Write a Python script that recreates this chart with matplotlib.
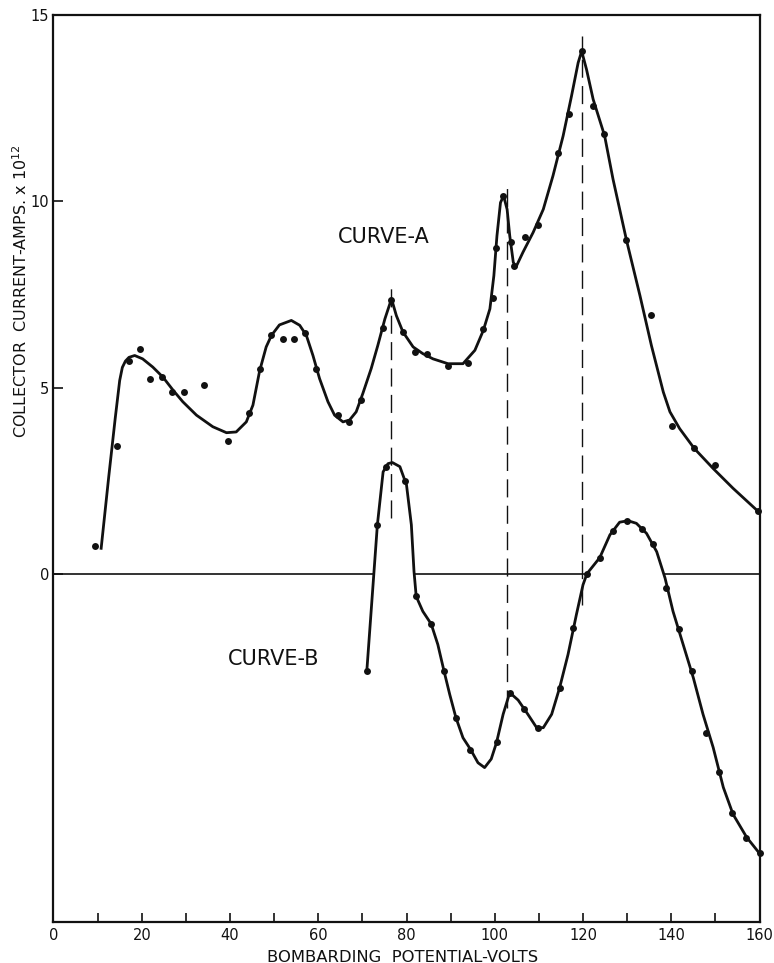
import matplotlib
matplotlib.use("Agg")
import matplotlib.pyplot as plt
import numpy as np

# curve A: measured points
a_dot_v = [9.3, 14.3, 17.0, 19.7, 21.8, 24.5, 26.8, 29.5, 34.2, 39.5, 44.4, 46.9, 49.2,
           51.9, 54.4, 56.9, 59.6, 64.4, 66.9, 69.6, 74.6, 76.6, 79.1, 81.9, 84.6, 89.3,
           93.9, 97.3, 99.5, 100.2, 101.8, 103.6, 104.4, 106.9, 109.8, 114.3, 116.8,
           119.7, 122.2, 124.7, 129.7, 135.4, 140.1, 145.1, 149.9, 159.6]
a_dot_y = [0.75, 3.45, 5.72, 6.04, 5.24, 5.29, 4.90, 4.90, 5.08, 3.58, 4.33, 5.50, 6.42,
           6.30, 6.30, 6.47, 5.50, 4.28, 4.09, 4.68, 6.60, 7.35, 6.50, 5.96, 5.90, 5.60,
           5.67, 6.58, 7.40, 8.75, 10.16, 8.90, 8.26, 9.05, 9.38, 11.30, 12.35,
           14.04, 12.57, 11.80, 8.96, 6.95, 3.98, 3.40, 2.94, 1.71]

# curve A: drawn line
a_line_v = [10.8, 12.5, 14.0, 15.0, 15.6, 16.3, 17.1, 18.4, 20.2, 22.5, 24.8, 27.1, 29.3,
            32.4, 36.1, 39.2, 41.4, 43.7, 45.2, 46.7, 48.2, 49.4, 51.2, 53.9, 55.8, 57.3,
            58.8, 60.3, 62.2, 63.7, 65.6, 67.1, 68.6, 70.1, 72.0, 73.5, 75.1, 76.6, 77.7,
            79.2, 81.5, 83.7, 86.0, 89.4, 92.8, 95.5, 97.4, 98.9, 99.8, 100.5, 101.3,
            102.0, 102.8, 103.4, 104.2, 104.8, 106.4, 108.7, 111.0, 113.2, 115.5, 117.4,
            118.9, 119.7, 120.8, 122.3, 124.9, 126.8, 129.9, 132.9, 135.5, 138.2, 139.7,
            141.9, 145.2, 149.5, 154.0, 159.6]
a_line_y = [0.70, 2.60, 4.20, 5.20, 5.55, 5.72, 5.82, 5.87, 5.78, 5.56, 5.29, 4.94, 4.63,
            4.27, 3.96, 3.80, 3.82, 4.09, 4.54, 5.45, 6.10, 6.41, 6.69, 6.81, 6.68, 6.41,
            5.87, 5.25, 4.63, 4.27, 4.09, 4.14, 4.36, 4.85, 5.52, 6.14, 6.85, 7.39, 6.94,
            6.50, 6.10, 5.92, 5.78, 5.65, 5.65, 6.01, 6.54, 7.12, 8.01, 9.08, 9.97,
            10.15, 9.79, 9.08, 8.37, 8.24, 8.64, 9.17, 9.79, 10.69, 11.76, 12.83,
            13.72, 14.03, 13.54, 12.74, 11.76, 10.60, 8.94, 7.48, 6.14, 4.89, 4.36,
            3.91, 3.38, 2.84, 2.31, 1.70]

# curve B: measured points
b_dot_v = [71.0, 73.4, 75.4, 79.6, 82.2, 85.6, 88.4, 91.2, 94.4, 100.4, 103.5, 106.6,
           109.8, 114.7, 117.8, 120.9, 123.8, 126.8, 129.9, 133.3, 135.9, 138.9, 141.8,
           144.7, 147.8, 150.8, 153.7, 156.9, 160.0]
b_dot_y = [-2.60, 1.33, 2.89, 2.51, -0.59, -1.34, -2.59, -3.84, -4.70, -4.50, -3.18, -3.60,
           -4.11, -3.04, -1.44, 0.02, 0.45, 1.17, 1.44, 1.21, 0.81, -0.37, -1.46,
           -2.59, -4.24, -5.29, -6.40, -7.08, -7.48]

# curve B: drawn line
b_line_v = [71.0, 73.4, 74.7, 75.8, 76.8, 78.5, 80.0, 81.1, 81.7, 82.2, 83.7, 85.6, 87.1,
            88.5, 89.8, 91.2, 92.8, 94.5, 96.2, 97.7, 99.2, 100.4, 101.9, 103.4, 105.3,
            107.5, 109.5, 111.0, 112.9, 114.7, 116.6, 118.5, 120.0, 120.9, 123.8, 126.1,
            128.3, 130.2, 132.1, 134.4, 136.7, 138.6, 140.4, 142.7, 145.0, 147.2, 149.5,
            151.8, 154.0, 157.1, 160.0]
b_line_y = [-2.60, 1.33, 2.75, 2.97, 3.00, 2.89, 2.40, 1.33, 0.08, -0.59, -0.99, -1.33,
            -1.88, -2.59, -3.22, -3.84, -4.38, -4.69, -5.05, -5.18, -4.95, -4.51, -3.75,
            -3.17, -3.37, -3.75, -4.11, -4.11, -3.75, -3.04, -2.15, -1.08, -0.28, 0.02,
            0.45, 1.06, 1.40, 1.44, 1.37, 1.10, 0.61, -0.10, -0.99, -1.88, -2.77, -3.75,
            -4.64, -5.71, -6.43, -7.05, -7.48]

# dashed markers through the peaks
dash_v = [76.6, 102.8, 119.8]
dash_top = [7.75, 10.55, 14.43]
dash_bottom = [1.5, -3.57, -0.83]

x_ticks = list(range(0, 161, 10))
x_labels = [str(t) if t % 20 == 0 else "" for t in x_ticks]
y_ticks = [0, 5, 10, 15]

ink = "#111111"
plt.rcParams["font.family"] = "DejaVu Sans"

fig = plt.figure(figsize=(7.74, 9.63), dpi=100)
ax = fig.add_axes([53.5 / 774, 41 / 963, 706 / 774, 907 / 963])
ax.set_xlim(0, 160)
ax.set_ylim(-9.32, 14.92)

# zero line, hidden where curve B rises above it
bv = np.array(b_line_v)
by = np.array(b_line_y)
cross = []
for i in range(len(bv) - 1):
    if (by[i] < 0) != (by[i + 1] < 0):
        cross.append(bv[i] + (0 - by[i]) * (bv[i + 1] - bv[i]) / (by[i + 1] - by[i]))
edges = [0] + cross + [160]
for i in range(0, len(edges) - 1, 2):
    ax.plot([edges[i], edges[i + 1]], [0, 0], color=ink, lw=1.2, solid_capstyle="butt")

for v, t, b in zip(dash_v, dash_top, dash_bottom):
    ax.plot([v, v], [b, t], color=ink, lw=1.0, dashes=(13, 6))

ax.plot(a_line_v, a_line_y, color=ink, lw=2.0, solid_joinstyle="round")
ax.plot(b_line_v, b_line_y, color=ink, lw=2.0, solid_joinstyle="round")
ax.plot(a_dot_v, a_dot_y, "o", color=ink, ms=5, mec="none", clip_on=False)
ax.plot(b_dot_v, b_dot_y, "o", color=ink, ms=5, mec="none", clip_on=False)

ax.text(64.5, 9.04, "CURVE-A", fontsize=15, color=ink, ha="left", va="center")
ax.text(39.5, -2.26, "CURVE-B", fontsize=15, color=ink, ha="left", va="center")

for s in ax.spines.values():
    s.set_linewidth(1.6)
    s.set_color(ink)

ax.set_xticks(x_ticks)
ax.set_xticklabels(x_labels)
ax.set_yticks(y_ticks)
ax.set_yticklabels([str(t) for t in y_ticks])
ax.tick_params(axis="x", direction="in", length=6.5, width=1.2, pad=4,
               labelsize=10.5, colors=ink)
ax.tick_params(axis="y", direction="in", length=7, width=1.2, pad=3,
               labelsize=10.5, colors=ink)

fig.text(21 / 774, 1 - 291 / 963, "COLLECTOR  CURRENT-AMPS. x 10$^{12}$",
         rotation=90, ha="center", va="center", fontsize=11.5, color=ink)
fig.text(403 / 774, 1 - 957 / 963, "BOMBARDING  POTENTIAL-VOLTS",
         ha="center", va="center", fontsize=11.8, color=ink)

fig.savefig("out.png", dpi=100, facecolor="white")
